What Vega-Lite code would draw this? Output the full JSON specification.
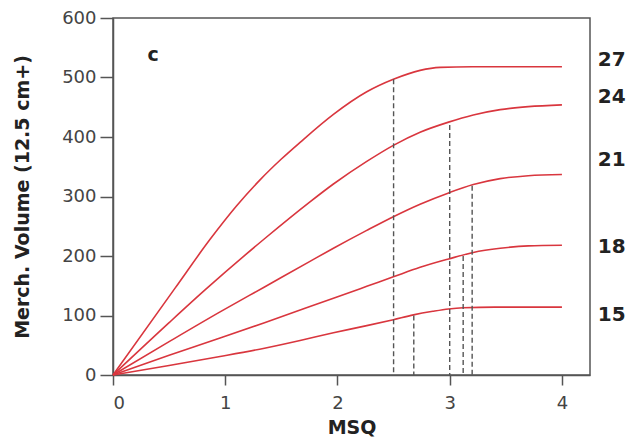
{
  "$schema": "https://vega.github.io/schema/vega-lite/v6.json",
  "width": 477,
  "height": 357,
  "autosize": {"type": "none"},
  "padding": {"left": 113, "top": 18, "right": 46, "bottom": 69},
  "background": "white",
  "config": {
    "view": {"stroke": "#555", "strokeWidth": 1.5},
    "font": "DejaVu Sans",
    "axis": {"grid": false, "domainColor": "#555", "domainWidth": 1.5, "tickColor": "#555", "tickWidth": 1.5, "labelColor": "#444", "labelFont": "DejaVu Sans", "titleFont": "DejaVu Sans", "titleColor": "#222", "titleFontWeight": "bold"}
  },
  "datasets": {
    "curves": [
      {"dbh": "27", "msq": 0, "vol": 0}, {"dbh": "27", "msq": 0.553, "vol": 146}, {"dbh": "27", "msq": 0.865, "vol": 228}, {"dbh": "27", "msq": 1.1, "vol": 284}, {"dbh": "27", "msq": 1.31, "vol": 328}, {"dbh": "27", "msq": 1.5, "vol": 363}, {"dbh": "27", "msq": 1.667, "vol": 391}, {"dbh": "27", "msq": 1.964, "vol": 438}, {"dbh": "27", "msq": 2.261, "vol": 476}, {"dbh": "27", "msq": 2.498, "vol": 497}, {"dbh": "27", "msq": 2.736, "vol": 512}, {"dbh": "27", "msq": 2.914, "vol": 517}, {"dbh": "27", "msq": 3.2, "vol": 518}, {"dbh": "27", "msq": 4, "vol": 518},
      {"dbh": "24", "msq": 0, "vol": 0}, {"dbh": "24", "msq": 0.5, "vol": 88}, {"dbh": "24", "msq": 0.82, "vol": 143}, {"dbh": "24", "msq": 1.35, "vol": 229}, {"dbh": "24", "msq": 1.755, "vol": 291}, {"dbh": "24", "msq": 1.964, "vol": 321}, {"dbh": "24", "msq": 2.261, "vol": 359}, {"dbh": "24", "msq": 2.498, "vol": 386}, {"dbh": "24", "msq": 2.736, "vol": 408}, {"dbh": "24", "msq": 2.99, "vol": 425}, {"dbh": "24", "msq": 3.21, "vol": 437}, {"dbh": "24", "msq": 3.45, "vol": 446}, {"dbh": "24", "msq": 3.7, "vol": 451}, {"dbh": "24", "msq": 4, "vol": 454},
      {"dbh": "21", "msq": 0, "vol": 0}, {"dbh": "21", "msq": 0.5, "vol": 56}, {"dbh": "21", "msq": 0.954, "vol": 106}, {"dbh": "21", "msq": 1.35, "vol": 148}, {"dbh": "21", "msq": 1.755, "vol": 191}, {"dbh": "21", "msq": 1.964, "vol": 213}, {"dbh": "21", "msq": 2.261, "vol": 243}, {"dbh": "21", "msq": 2.498, "vol": 266}, {"dbh": "21", "msq": 2.736, "vol": 287}, {"dbh": "21", "msq": 2.99, "vol": 306}, {"dbh": "21", "msq": 3.21, "vol": 320}, {"dbh": "21", "msq": 3.45, "vol": 330}, {"dbh": "21", "msq": 3.7, "vol": 335}, {"dbh": "21", "msq": 4, "vol": 337},
      {"dbh": "18", "msq": 0, "vol": 0}, {"dbh": "18", "msq": 0.5, "vol": 33}, {"dbh": "18", "msq": 0.954, "vol": 62}, {"dbh": "18", "msq": 1.35, "vol": 88}, {"dbh": "18", "msq": 1.755, "vol": 115}, {"dbh": "18", "msq": 1.964, "vol": 129}, {"dbh": "18", "msq": 2.261, "vol": 149}, {"dbh": "18", "msq": 2.498, "vol": 165}, {"dbh": "18", "msq": 2.736, "vol": 181}, {"dbh": "18", "msq": 2.99, "vol": 195}, {"dbh": "18", "msq": 3.21, "vol": 206}, {"dbh": "18", "msq": 3.45, "vol": 213}, {"dbh": "18", "msq": 3.7, "vol": 217}, {"dbh": "18", "msq": 4, "vol": 218},
      {"dbh": "15", "msq": 0, "vol": 0}, {"dbh": "15", "msq": 0.5, "vol": 16}, {"dbh": "15", "msq": 0.954, "vol": 31}, {"dbh": "15", "msq": 1.35, "vol": 45}, {"dbh": "15", "msq": 1.667, "vol": 58}, {"dbh": "15", "msq": 1.964, "vol": 71}, {"dbh": "15", "msq": 2.261, "vol": 83}, {"dbh": "15", "msq": 2.498, "vol": 93}, {"dbh": "15", "msq": 2.677, "vol": 101}, {"dbh": "15", "msq": 2.85, "vol": 107}, {"dbh": "15", "msq": 2.99, "vol": 111}, {"dbh": "15", "msq": 3.12, "vol": 113}, {"dbh": "15", "msq": 3.4, "vol": 114}, {"dbh": "15", "msq": 4, "vol": 114}
    ],
    "drops": [
      {"dbh": "27", "msq": 2.5, "top": 497},
      {"dbh": "24", "msq": 3.0, "top": 420},
      {"dbh": "21", "msq": 3.2, "top": 318},
      {"dbh": "18", "msq": 3.12, "top": 200},
      {"dbh": "15", "msq": 2.68, "top": 100}
    ],
    "labels": [
      {"label": "27", "msq": 4.32, "vol": 529},
      {"label": "24", "msq": 4.32, "vol": 467},
      {"label": "21", "msq": 4.32, "vol": 361},
      {"label": "18", "msq": 4.32, "vol": 215},
      {"label": "15", "msq": 4.32, "vol": 101}
    ],
    "panel": [{"label": "c", "msq": 0.357, "vol": 538}]
  },
  "layer": [
    {
      "data": {"name": "curves"},
      "mark": {"type": "line", "interpolate": "monotone", "color": "#d9363e", "strokeWidth": 1.6},
      "encoding": {
        "x": {"field": "msq", "type": "quantitative", "scale": {"domain": [0, 4.25], "nice": false, "zero": false},
          "axis": {"values": [0, 0.5, 1, 1.5, 2, 2.5, 3, 3.5, 4], "tickSize": {"condition": {"test": "datum.value % 1 === 0", "value": 10}, "value": 7}, "labelExpr": "datum.value % 1 === 0 ? datum.label : ''", "labelFontSize": 18, "labelPadding": 9, "title": "MSQ", "titleFontSize": 19, "titlePadding": 6, "format": "d"}},
        "y": {"field": "vol", "type": "quantitative", "scale": {"domain": [0, 600], "nice": false},
          "axis": {"values": [0, 50, 100, 150, 200, 250, 300, 350, 400, 450, 500, 550, 600], "tickSize": {"condition": {"test": "datum.value % 100 === 0", "value": 13}, "value": 7}, "labelExpr": "datum.value % 100 === 0 ? datum.label : ''", "labelFontSize": 18, "labelPadding": 4, "title": "Merch. Volume (12.5 cm+)", "titleFontSize": 19, "titlePadding": 29}},
        "detail": {"field": "dbh"}
      }
    },
    {
      "data": {"name": "drops"},
      "mark": {"type": "rule", "color": "#555", "strokeWidth": 1.4, "strokeDash": [5, 3]},
      "encoding": {
        "x": {"field": "msq", "type": "quantitative"},
        "y": {"field": "top", "type": "quantitative"},
        "y2": {"datum": 0}
      }
    },
    {
      "data": {"name": "labels"},
      "mark": {"type": "text", "align": "left", "baseline": "middle", "fontSize": 20, "fontWeight": "bold", "color": "#222"},
      "encoding": {
        "x": {"field": "msq", "type": "quantitative"},
        "y": {"field": "vol", "type": "quantitative"},
        "text": {"field": "label"}
      }
    },
    {
      "data": {"name": "panel"},
      "mark": {"type": "text", "align": "center", "baseline": "middle", "fontSize": 19, "fontWeight": "bold", "color": "#222"},
      "encoding": {
        "x": {"field": "msq", "type": "quantitative"},
        "y": {"field": "vol", "type": "quantitative"},
        "text": {"field": "label"}
      }
    }
  ]
}
